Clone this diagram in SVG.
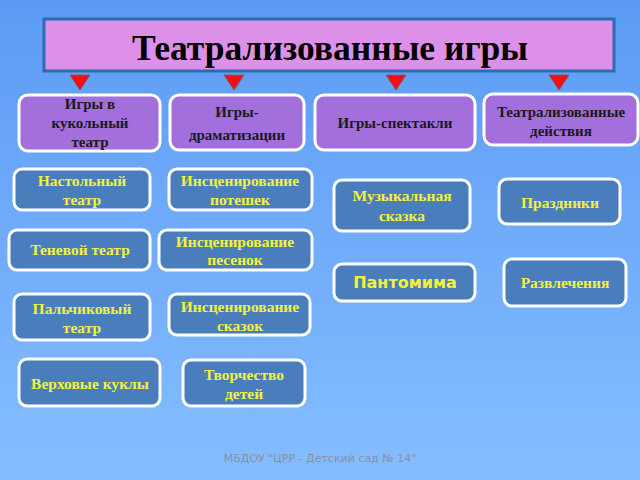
<svg xmlns="http://www.w3.org/2000/svg" width="640" height="480" viewBox="0 0 640 480">
  <defs>
    <linearGradient id="bg" x1="0" y1="0" x2="0" y2="1">
      <stop offset="0" stop-color="#5c9bf5"/>
      <stop offset="1" stop-color="#84bdff"/>
    </linearGradient>
    <style>
      .title-box { fill: #dc90e8; stroke: #2a6db0; stroke-width: 3; }
      .title { font-family: "Liberation Serif", "Times New Roman", serif; font-weight: bold; font-size: 35.5px; fill: #000; text-anchor: middle; }
      .cat { fill: #a26fdd; stroke: #ffffff; stroke-width: 3; }
      .cat-t { font-family: "Liberation Serif", "Times New Roman", serif; font-weight: bold; font-size: 15px; fill: #1a1a1a; text-anchor: middle; }
      .item { fill: #4a7dbc; stroke: #ffffff; stroke-width: 3; }
      .item-t { font-family: "Liberation Serif", "Times New Roman", serif; font-weight: bold; font-size: 15.5px; fill: #f2f23c; text-anchor: middle; }
      .item-s { font-family: "DejaVu Sans", Verdana, sans-serif; font-weight: bold; font-size: 16px; fill: #f2f23c; text-anchor: middle; }
      .tri { fill: #f01010; stroke: #7a5a70; stroke-width: 1; }
      .footer { font-family: "DejaVu Sans", sans-serif; font-size: 11px; fill: #8a90a2; text-anchor: middle; }
    </style>
  </defs>

  <rect x="0" y="0" width="640" height="480" fill="url(#bg)"/>

  <g id="title">
    <rect class="title-box" x="44" y="19" width="570" height="52"/>
    <text class="title" x="330" y="60">Театрализованные игры</text>
  </g>

  <g id="connectors">
    <polygon class="tri" points="70,75 90,75 80,90"/>
    <polygon class="tri" points="224,75 244,75 234,90"/>
    <polygon class="tri" points="386,75 406,75 396,90"/>
    <polygon class="tri" points="549,75 569,75 559,90"/>
  </g>

  <g id="cat-puppet">
    <rect class="cat" x="19" y="95" width="141" height="56" rx="9"/>
    <text class="cat-t" x="90" y="109">Игры в</text>
    <text class="cat-t" x="90" y="128">кукольный</text>
    <text class="cat-t" x="90" y="147">театр</text>
  </g>
  <g id="cat-dramatization">
    <rect class="cat" x="170" y="95" width="134" height="55" rx="9"/>
    <text class="cat-t" x="237" y="117">Игры-</text>
    <text class="cat-t" x="237" y="140">драматизации</text>
  </g>
  <g id="cat-performance">
    <rect class="cat" x="315" y="95" width="160" height="55" rx="9"/>
    <text class="cat-t" x="395" y="128">Игры-спектакли</text>
  </g>
  <g id="cat-actions">
    <rect class="cat" x="484" y="94" width="154" height="51" rx="9"/>
    <text class="cat-t" x="561" y="117">Театрализованные</text>
    <text class="cat-t" x="561" y="136">действия</text>
  </g>

  <g id="n-table">
    <rect class="item" x="14" y="169" width="136" height="41" rx="8"/>
    <text class="item-t" x="82" y="186">Настольный</text>
    <text class="item-t" x="82" y="205">театр</text>
  </g>
  <g id="n-shadow">
    <rect class="item" x="9" y="230" width="141" height="40" rx="8"/>
    <text class="item-t" x="80" y="255">Теневой театр</text>
  </g>
  <g id="n-finger">
    <rect class="item" x="14" y="294" width="136" height="46" rx="8"/>
    <text class="item-t" x="82" y="314">Пальчиковый</text>
    <text class="item-t" x="82" y="333">театр</text>
  </g>
  <g id="n-top">
    <rect class="item" x="19" y="359" width="141" height="47" rx="8"/>
    <text class="item-t" x="90" y="389">Верховые куклы</text>
  </g>

  <g id="n-nursery">
    <rect class="item" x="169" y="169" width="143" height="41" rx="8"/>
    <text class="item-t" x="240" y="186">Инсценирование</text>
    <text class="item-t" x="240" y="205">потешек</text>
  </g>
  <g id="n-songs">
    <rect class="item" x="159" y="230" width="153" height="40" rx="8"/>
    <text class="item-t" x="235" y="247">Инсценирование</text>
    <text class="item-t" x="235" y="265">песенок</text>
  </g>
  <g id="n-tales">
    <rect class="item" x="169" y="294" width="141" height="41" rx="8"/>
    <text class="item-t" x="240" y="312">Инсценирование</text>
    <text class="item-t" x="240" y="331">сказок</text>
  </g>
  <g id="n-creativity">
    <rect class="item" x="183" y="360" width="122" height="46" rx="8"/>
    <text class="item-t" x="244" y="380">Творчество</text>
    <text class="item-t" x="244" y="399">детей</text>
  </g>

  <g id="n-musical">
    <rect class="item" x="334" y="180" width="136" height="51" rx="8"/>
    <text class="item-t" x="402" y="201">Музыкальная</text>
    <text class="item-t" x="402" y="221">сказка</text>
  </g>
  <g id="n-pantomime">
    <rect class="item" x="334" y="264" width="141" height="37" rx="8"/>
    <text class="item-s" x="405" y="288">Пантомима</text>
  </g>

  <g id="n-holidays">
    <rect class="item" x="499" y="179" width="121" height="45" rx="8"/>
    <text class="item-t" x="560" y="208">Праздники</text>
  </g>
  <g id="n-entertainment">
    <rect class="item" x="504" y="259" width="122" height="47" rx="8"/>
    <text class="item-t" x="565" y="288">Развлечения</text>
  </g>

  <text class="footer" x="320" y="462">МБДОУ "ЦРР - Детский сад № 14"</text>
</svg>
